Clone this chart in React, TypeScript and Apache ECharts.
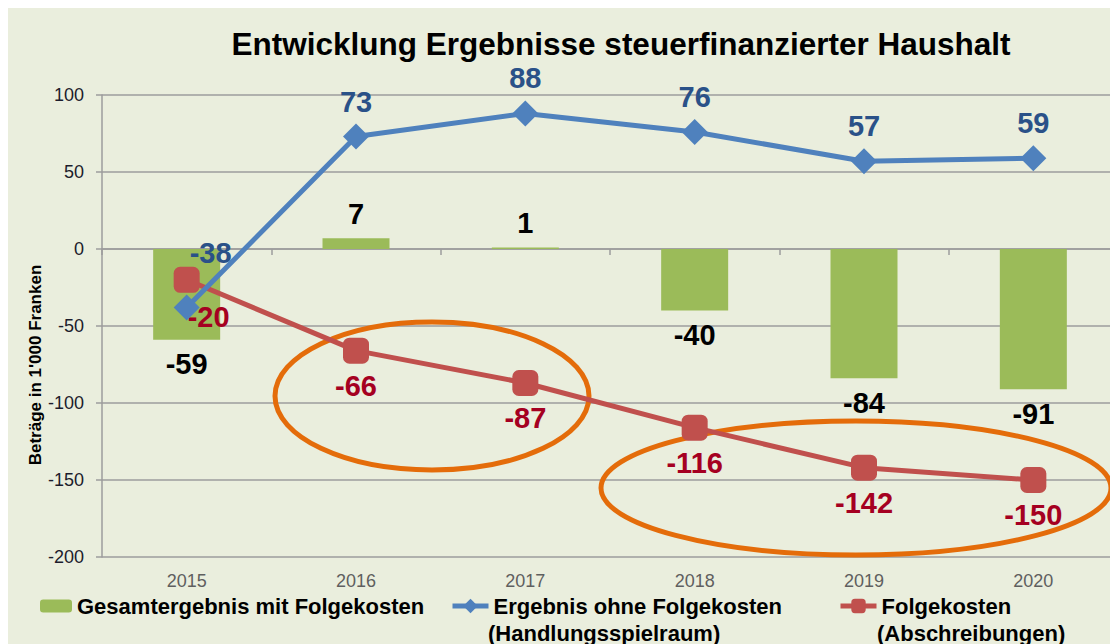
import React, { useEffect, useRef } from "react";
import * as echarts from "echarts";

const categories = ["2015", "2016", "2017", "2018", "2019", "2020"];
const gesamtergebnis = [-59, 7, 1, -40, -84, -91];
const ohneFolgekosten = [-38, 73, 88, 76, 57, 59];
const folgekosten = [-20, -66, -87, -116, -142, -150];
const yMin = -200;
const yMax = 100;
const yInterval = 50;

const nameBar = "Gesamtergebnis mit Folgekosten";
const nameBlue = "Ergebnis ohne Folgekosten";
const nameRed = "Folgekosten";
const subBlue = "(Handlungsspielraum)";
const subRed = "(Abschreibungen)";
const titleText = "Entwicklung Ergebnisse steuerfinanzierter Haushalt";
const yName = "Beträge in 1'000 Franken";

const FONT = "'Liberation Sans', Arial, sans-serif";

export default function App() {
  const ref = useRef<HTMLDivElement>(null);
  useEffect(() => {
    if (!ref.current) return;
    const chart = echarts.init(ref.current, undefined, { renderer: "svg" });
    const legendText = { fontFamily: FONT, fontSize: 22, fontWeight: "bold", color: "#000" };
    const legendCommon = {
      top: 587,
      padding: 0,
      textStyle: legendText,
      selectedMode: false,
    };
    chart.setOption({
      animation: false,
      backgroundColor: "transparent",
      title: {
        text: titleText,
        left: 608,
        textAlign: "center",
        top: 15,
        textStyle: { fontFamily: FONT, fontSize: 31.5, fontWeight: "bold", color: "#000" },
      },
      legend: [
        { ...legendCommon, data: [nameBar], left: 32, itemWidth: 32, itemHeight: 13 },
        {
          ...legendCommon,
          data: [nameBlue],
          left: 442,
          itemWidth: 36,
          itemHeight: 18,
          lineStyle: { width: 5 },
        },
        {
          ...legendCommon,
          data: [nameRed],
          left: 830,
          itemWidth: 36,
          itemHeight: 18,
          lineStyle: { width: 5 },
        },
      ],
      grid: { left: 94, top: 87, width: 1020, height: 462, containLabel: false },
      xAxis: [
        {
          type: "category",
          data: categories,
          position: "bottom",
          axisLine: { show: false, onZero: false },
          axisTick: { show: false },
          axisLabel: { color: "#5f5f5f", fontFamily: FONT, fontSize: 18, margin: 15 },
        },
        {
          type: "category",
          data: categories,
          position: "top",
          axisLine: { show: true, onZero: true, lineStyle: { color: "#9c9c9c", width: 1.5 } },
          axisTick: { show: true, inside: true, length: 6, lineStyle: { color: "#9c9c9c", width: 1.5 } },
          axisLabel: { show: false },
        },
      ],
      yAxis: {
        type: "value",
        min: yMin,
        max: yMax,
        interval: yInterval,
        axisLine: { show: true, lineStyle: { color: "#9c9c9c", width: 1.5 } },
        axisTick: { show: true, length: 6, lineStyle: { color: "#9c9c9c", width: 1.5 } },
        splitLine: { show: true, lineStyle: { color: "#9c9c9c", width: 1.5 } },
        axisLabel: { color: "#1c1c2c", fontFamily: FONT, fontSize: 18, margin: 18 },
      },
      graphic: [
        {
          type: "ellipse",
          z: 1,
          shape: { cx: 424, cy: 388, rx: 157, ry: 74 },
          style: { fill: "none", stroke: "#e46c0a", lineWidth: 5 },
        },
        {
          type: "ellipse",
          z: 1,
          shape: { cx: 848, cy: 480, rx: 255, ry: 67 },
          style: { fill: "none", stroke: "#e46c0a", lineWidth: 5 },
        },
        {
          type: "text",
          x: 27,
          y: 357,
          rotation: Math.PI / 2,
          style: {
            text: yName,
            fontFamily: FONT,
            fontSize: 17,
            fontWeight: "bold",
            fill: "#000",
            align: "center",
            verticalAlign: "middle",
          },
        },
        {
          type: "text",
          x: 480,
          y: 625,
          style: { text: subBlue, fontFamily: FONT, fontSize: 22, fontWeight: "bold", fill: "#000", verticalAlign: "middle" },
        },
        {
          type: "text",
          x: 869,
          y: 625,
          style: { text: subRed, fontFamily: FONT, fontSize: 22, fontWeight: "bold", fill: "#000", verticalAlign: "middle" },
        },
      ],
      series: [
        {
          name: nameBar,
          type: "bar",
          xAxisIndex: 0,
          data: gesamtergebnis,
          barWidth: 67,
          itemStyle: { color: "#9bbb59" },
          z: 2,
          label: {
            show: true,
            position: "outside",
            distance: 10,
            fontFamily: FONT,
            fontSize: 29,
            fontWeight: "bold",
            color: "#000",
          },
        },
        {
          name: nameBlue,
          type: "line",
          xAxisIndex: 0,
          data: ohneFolgekosten.map((v, i) =>
            i === 0 ? { value: v, label: { offset: [24, -55] } } : v
          ),
          symbol: "diamond",
          symbolSize: 26,
          lineStyle: { color: "#4f81bd", width: 5 },
          itemStyle: { color: "#4f81bd" },
          z: 4,
          label: {
            show: true,
            position: "inside",
            offset: [0, -35],
            fontFamily: FONT,
            fontSize: 29,
            fontWeight: "bold",
            color: "#2a5188",
          },
        },
        {
          name: nameRed,
          type: "line",
          xAxisIndex: 0,
          data: folgekosten.map((v, i) =>
            i === 0 ? { value: v, label: { offset: [22, 37] } } : v
          ),
          symbol: "roundRect",
          symbolSize: 26,
          lineStyle: { color: "#c0504d", width: 5 },
          itemStyle: { color: "#c0504d" },
          z: 3,
          label: {
            show: true,
            position: "inside",
            offset: [0, 35],
            fontFamily: FONT,
            fontSize: 29,
            fontWeight: "bold",
            color: "#a50021",
          },
        },
      ],
    });
    return () => chart.dispose();
  }, []);
  return (
    <div style={{ width: 1110, height: 636, background: "#eaeedd" }}>
      <div ref={ref} style={{ width: 1110, height: 636 }} />
    </div>
  );
}
